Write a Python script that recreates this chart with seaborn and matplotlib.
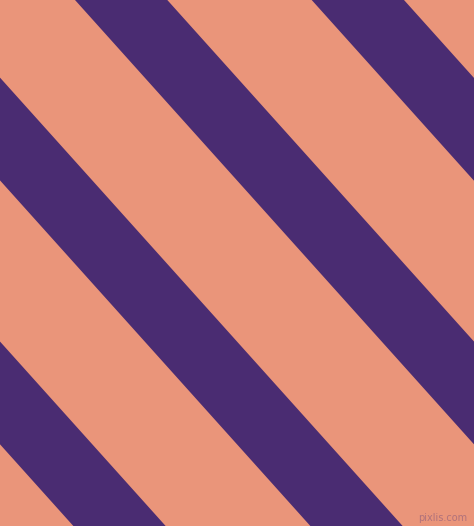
import numpy as np
import pandas as pd
import seaborn as sns
import matplotlib
matplotlib.use("Agg")
import matplotlib.pyplot as plt

# Stripe data: left-edge x position of each purple band along the top edge (y = 0)
stripe_names = ["band 1", "band 2", "band 3", "band 4", "band 5"]
stripe_top_x = [-399.0, -162.0, 75.0, 311.7, 548.4]
stripe_width = 92.3          # horizontal width of a band
stripe_run = 0.898           # horizontal shift per pixel going down

background_color = "#EA957A"
stripe_color = "#4A2C72"

W, H = 474, 526

sns.set_style("white")
fig = plt.figure(figsize=(W / 100, H / 100), dpi=100)
ax = fig.add_axes([0, 0, 1, 1])
ax.set_facecolor(background_color)
fig.patch.set_facecolor(background_color)

df = pd.DataFrame({"name": stripe_names, "x0": stripe_top_x})
ys = np.array([0.0, float(H)])
for _, row in df.iterrows():
    left = row["x0"] + stripe_run * ys
    right = left + stripe_width
    ax.fill_betweenx(ys, left, right, color=stripe_color, linewidth=0, antialiased=True)

ax.set_xlim(0, W)
ax.set_ylim(H, 0)
ax.set_axis_off()

ax.text(467, 518, "pixlis.com", fontsize=7, color="#8a5a7a", alpha=0.6,
        ha="right", va="center", family="DejaVu Sans")

fig.savefig("out.png", dpi=100, facecolor=background_color)
